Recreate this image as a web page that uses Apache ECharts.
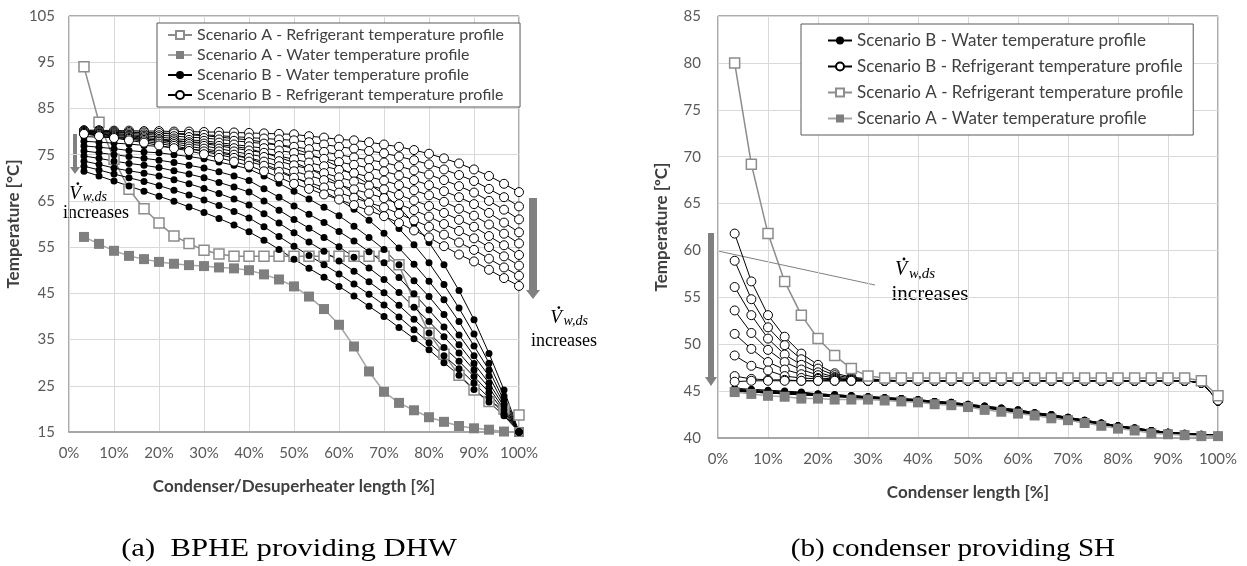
<!doctype html>
<html>
<head>
<meta charset="utf-8">
<title>Temperature profiles - DHW / SH</title>
<style>
  html, body { margin: 0; padding: 0; background: #fff; }
  #main { width: 1247px; height: 566px; }
</style>
</head>
<body>
<div id="main"></div>
<script src="https://cdn.jsdelivr.net/npm/echarts@6/dist/echarts.min.js"></script>
<script>
// position along the exchanger [%], 30 nodes
var lengthPct = [3.33, 6.67, 10, 13.33, 16.67, 20, 23.33, 26.67, 30, 33.33, 36.67, 40, 43.33, 46.67, 50,
                 53.33, 56.67, 60, 63.33, 66.67, 70, 73.33, 76.67, 80, 83.33, 86.67, 90, 93.33, 96.67, 100];

var NAME_A_REF = 'Scenario A - Refrigerant temperature profile';
var NAME_A_WAT = 'Scenario A - Water temperature profile';
var NAME_B_WAT = 'Scenario B - Water temperature profile';
var NAME_B_REF = 'Scenario B - Refrigerant temperature profile';

// (a) BPHE providing DHW
var dhwRefA = [94.0, 82.0, 74.0, 67.5, 63.3, 60.2, 57.4, 55.8, 54.3, 53.5, 53.0, 53.0, 53.0, 53.0, 53.0,
               53.0, 53.0, 53.0, 53.0, 53.0, 53.0, 51.2, 43.2, 36.4, 31.8, 27.3, 24.1, 21.6, 20.0, 18.7];
var dhwWaterA = [57.2, 55.7, 54.2, 53.1, 52.4, 51.8, 51.4, 51.1, 50.9, 50.6, 50.4, 50.0, 49.1, 48.0, 46.5,
                 44.3, 41.6, 38.2, 33.5, 28.1, 23.7, 21.3, 19.7, 18.2, 17.2, 16.3, 15.8, 15.5, 15.1, 15.0];
var dhwWaterB = [
  [80.0, 80.0, 79.9, 79.8, 79.7, 79.6, 79.5, 79.3, 79.1, 78.8, 78.5, 78.2, 77.7, 77.1, 76.3, 75.2, 73.9, 72.3, 70.5, 68.6, 66.5, 63.6, 60.1, 56.0, 51.2, 45.6, 39.3, 32.0, 24.1, 15.0],
  [78.9, 78.8, 78.7, 78.5, 78.4, 78.2, 78.0, 77.8, 77.6, 77.2, 76.8, 76.3, 75.4, 74.4, 73.3, 72.0, 70.4, 68.7, 66.7, 64.5, 62.0, 59.0, 55.5, 51.6, 46.9, 41.8, 36.2, 29.9, 22.8, 15.0],
  [77.9, 77.7, 77.5, 77.3, 77.0, 76.8, 76.5, 76.2, 75.9, 75.4, 74.8, 74.2, 73.0, 71.6, 70.2, 68.6, 67.0, 65.3, 63.2, 60.8, 58.0, 54.8, 51.3, 47.6, 43.6, 38.9, 33.6, 28.4, 21.8, 15.0],
  [76.9, 76.6, 76.3, 75.9, 75.6, 75.4, 75.0, 74.6, 74.1, 73.4, 72.7, 71.9, 70.4, 68.8, 67.1, 65.4, 63.6, 61.8, 59.5, 57.1, 54.5, 51.2, 47.7, 44.3, 40.4, 36.0, 31.5, 27.1, 21.0, 15.0],
  [75.8, 75.4, 75.0, 74.6, 74.2, 73.8, 73.3, 72.7, 72.1, 71.3, 70.4, 69.4, 67.6, 65.8, 63.9, 62.1, 60.3, 58.4, 56.3, 54.0, 51.6, 48.4, 44.9, 41.4, 37.7, 33.9, 29.8, 25.6, 20.5, 15.0],
  [74.7, 74.2, 73.6, 73.1, 72.7, 72.2, 71.5, 70.8, 70.0, 69.0, 68.0, 66.9, 65.0, 63.0, 61.0, 59.1, 57.1, 55.1, 52.8, 50.5, 48.0, 45.2, 42.0, 38.9, 35.6, 32.1, 28.4, 24.6, 19.9, 15.0],
  [73.6, 72.9, 72.1, 71.5, 71.0, 70.4, 69.6, 68.7, 67.7, 66.6, 65.4, 64.1, 62.2, 60.2, 58.1, 56.1, 54.1, 52.0, 49.8, 47.5, 45.1, 42.4, 39.4, 36.4, 33.3, 30.3, 27.0, 23.6, 19.4, 15.0],
  [72.5, 71.7, 70.8, 70.0, 69.2, 68.3, 67.3, 66.3, 65.2, 64.0, 62.7, 61.3, 59.4, 57.3, 55.2, 53.2, 51.2, 49.2, 47.0, 44.8, 42.5, 39.9, 37.1, 34.3, 31.5, 28.7, 25.6, 22.4, 18.9, 15.0],
  [71.4, 70.4, 69.3, 68.2, 67.1, 66.0, 64.9, 63.7, 62.5, 61.2, 59.8, 58.3, 56.5, 54.5, 52.4, 50.4, 48.5, 46.5, 44.4, 42.2, 40.0, 37.6, 35.2, 32.8, 30.0, 27.3, 24.2, 21.5, 18.5, 15.0]
];
var dhwRefB = [
  [80.3, 80.3, 80.2, 80.2, 80.1, 80.1, 80.0, 80.0, 79.9, 79.9, 79.8, 79.7, 79.6, 79.5, 79.4, 79.0, 78.7, 78.3, 78.1, 77.7, 77.2, 76.7, 76.0, 75.2, 74.2, 73.1, 71.8, 70.4, 68.7, 66.9],
  [80.2, 80.1, 80.0, 79.9, 79.8, 79.7, 79.6, 79.5, 79.3, 79.1, 78.9, 78.7, 78.5, 78.3, 78.1, 77.7, 77.2, 76.7, 76.3, 75.8, 75.3, 74.6, 73.8, 72.9, 71.8, 70.6, 69.3, 67.6, 65.8, 63.8],
  [80.1, 80.0, 79.8, 79.6, 79.4, 79.2, 79.0, 78.8, 78.6, 78.3, 78.0, 77.7, 77.4, 77.1, 76.7, 76.2, 75.6, 75.0, 74.4, 73.9, 73.3, 72.5, 71.6, 70.7, 69.5, 68.2, 66.8, 65.0, 63.1, 61.0],
  [80.0, 79.8, 79.6, 79.3, 79.1, 78.8, 78.5, 78.2, 78.0, 77.6, 77.2, 76.8, 76.4, 75.9, 75.4, 74.8, 74.1, 73.4, 72.8, 72.1, 71.4, 70.5, 69.5, 68.4, 67.1, 65.8, 64.3, 62.4, 60.3, 58.2],
  [79.9, 79.6, 79.4, 79.1, 78.8, 78.4, 78.1, 77.7, 77.4, 76.9, 76.4, 75.9, 75.4, 74.7, 74.0, 73.3, 72.5, 71.7, 71.0, 70.2, 69.4, 68.4, 67.3, 66.2, 64.8, 63.3, 61.8, 59.9, 57.9, 55.8],
  [79.8, 79.5, 79.2, 78.9, 78.5, 78.1, 77.7, 77.3, 76.9, 76.3, 75.7, 75.1, 74.5, 73.6, 72.7, 71.9, 71.0, 70.1, 69.2, 68.3, 67.5, 66.3, 65.1, 63.9, 62.4, 60.9, 59.4, 57.4, 55.4, 53.3],
  [79.7, 79.4, 79.0, 78.6, 78.2, 77.8, 77.3, 76.8, 76.3, 75.7, 75.0, 74.3, 73.5, 72.5, 71.4, 70.5, 69.5, 68.5, 67.5, 66.6, 65.6, 64.3, 63.0, 61.6, 60.0, 58.5, 56.9, 55.0, 53.0, 51.0],
  [79.6, 79.2, 78.8, 78.4, 77.9, 77.4, 76.9, 76.3, 75.7, 75.0, 74.3, 73.5, 72.6, 71.3, 70.0, 69.0, 67.9, 66.8, 65.7, 64.6, 63.6, 62.2, 60.8, 59.4, 57.7, 56.0, 54.4, 52.5, 50.6, 48.8],
  [79.5, 79.0, 78.6, 78.1, 77.6, 77.0, 76.4, 75.8, 75.1, 74.3, 73.5, 72.6, 71.4, 70.1, 68.7, 67.6, 66.4, 65.3, 64.1, 62.9, 61.7, 60.2, 58.6, 57.1, 55.2, 53.4, 51.9, 50.1, 48.3, 46.6]
];

// (b) condenser providing SH
var shRefA = [80.0, 69.2, 61.8, 56.7, 53.1, 50.6, 48.8, 47.4, 46.6, 46.4, 46.4, 46.4, 46.4, 46.4, 46.4,
              46.4, 46.4, 46.4, 46.4, 46.4, 46.4, 46.4, 46.4, 46.4, 46.4, 46.4, 46.4, 46.4, 46.1, 44.5];
var shWaterA = [44.9, 44.7, 44.5, 44.4, 44.2, 44.2, 44.1, 44.1, 44.1, 44.0, 43.9, 43.8, 43.6, 43.5, 43.3,
                43.0, 42.8, 42.6, 42.4, 42.1, 41.9, 41.6, 41.3, 41.0, 40.8, 40.5, 40.4, 40.3, 40.2, 40.2];
var shWaterB = [
  [45.3, 45.2, 45.1, 45.0, 44.9, 44.7, 44.6, 44.5, 44.4, 44.3, 44.2, 44.1, 43.9, 43.8, 43.6, 43.4, 43.2, 43.0, 42.7, 42.5, 42.2, 41.9, 41.6, 41.3, 41.1, 40.8, 40.6, 40.5, 40.4, 40.3],
  [45.2, 45.1, 45.0, 44.9, 44.8, 44.7, 44.6, 44.5, 44.4, 44.3, 44.2, 44.1, 43.9, 43.8, 43.6, 43.4, 43.2, 43.0, 42.7, 42.5, 42.2, 41.9, 41.6, 41.3, 41.1, 40.8, 40.6, 40.5, 40.4, 40.3],
  [45.2, 45.0, 44.9, 44.9, 44.8, 44.7, 44.6, 44.5, 44.4, 44.3, 44.2, 44.0, 43.9, 43.7, 43.5, 43.3, 43.1, 42.9, 42.7, 42.4, 42.2, 41.9, 41.6, 41.3, 41.0, 40.8, 40.6, 40.5, 40.4, 40.3],
  [45.1, 45.0, 44.9, 44.8, 44.7, 44.6, 44.5, 44.5, 44.4, 44.3, 44.1, 44.0, 43.9, 43.7, 43.5, 43.3, 43.1, 42.9, 42.6, 42.4, 42.1, 41.8, 41.5, 41.3, 41.0, 40.8, 40.6, 40.4, 40.3, 40.3],
  [45.1, 45.0, 44.9, 44.8, 44.7, 44.6, 44.5, 44.4, 44.3, 44.2, 44.1, 44.0, 43.8, 43.7, 43.5, 43.3, 43.1, 42.8, 42.6, 42.4, 42.1, 41.8, 41.5, 41.2, 41.0, 40.8, 40.6, 40.4, 40.3, 40.3],
  [45.0, 44.9, 44.8, 44.8, 44.7, 44.6, 44.5, 44.4, 44.3, 44.2, 44.1, 43.9, 43.8, 43.6, 43.4, 43.2, 43.0, 42.8, 42.6, 42.3, 42.1, 41.8, 41.5, 41.2, 41.0, 40.7, 40.5, 40.4, 40.3, 40.2],
  [45.0, 44.9, 44.8, 44.7, 44.6, 44.5, 44.4, 44.4, 44.3, 44.2, 44.0, 43.9, 43.8, 43.6, 43.4, 43.2, 43.0, 42.8, 42.5, 42.3, 42.0, 41.8, 41.5, 41.2, 40.9, 40.7, 40.5, 40.4, 40.3, 40.2],
  [45.0, 44.9, 44.8, 44.7, 44.6, 44.5, 44.4, 44.3, 44.2, 44.1, 44.0, 43.9, 43.7, 43.6, 43.4, 43.2, 43.0, 42.7, 42.5, 42.3, 42.0, 41.7, 41.4, 41.2, 40.9, 40.7, 40.5, 40.4, 40.3, 40.2]
];
var shRefB = [
  [61.8, 56.7, 53.1, 50.8, 49.0, 47.8, 46.9, 46.5, 46.3, 46.2, 46.1, 46.1, 46.1, 46.1, 46.1, 46.1, 46.1, 46.1, 46.1, 46.1, 46.1, 46.1, 46.1, 46.1, 46.1, 46.1, 46.1, 46.1, 45.9, 44.0],
  [58.9, 54.8, 51.8, 49.9, 48.4, 47.4, 46.7, 46.4, 46.2, 46.1, 46.1, 46.1, 46.1, 46.1, 46.1, 46.1, 46.1, 46.1, 46.1, 46.1, 46.1, 46.1, 46.1, 46.1, 46.1, 46.1, 46.1, 46.1, 45.9, 44.0],
  [56.1, 53.1, 50.6, 48.9, 47.8, 47.0, 46.5, 46.3, 46.2, 46.1, 46.1, 46.1, 46.1, 46.1, 46.1, 46.1, 46.1, 46.1, 46.1, 46.1, 46.1, 46.1, 46.1, 46.1, 46.1, 46.1, 46.1, 46.1, 45.9, 44.0],
  [53.6, 51.2, 49.4, 48.1, 47.3, 46.7, 46.4, 46.2, 46.1, 46.1, 46.1, 46.1, 46.1, 46.1, 46.1, 46.1, 46.1, 46.1, 46.1, 46.1, 46.1, 46.1, 46.1, 46.1, 46.1, 46.1, 46.1, 46.1, 45.9, 44.0],
  [51.1, 49.5, 48.1, 47.3, 46.8, 46.4, 46.3, 46.2, 46.1, 46.1, 46.1, 46.1, 46.1, 46.1, 46.1, 46.1, 46.1, 46.1, 46.1, 46.1, 46.1, 46.1, 46.1, 46.1, 46.1, 46.1, 46.1, 46.1, 45.9, 44.0],
  [48.8, 47.7, 47.2, 46.6, 46.4, 46.3, 46.2, 46.1, 46.1, 46.1, 46.1, 46.1, 46.1, 46.1, 46.1, 46.1, 46.1, 46.1, 46.1, 46.1, 46.1, 46.1, 46.1, 46.1, 46.1, 46.1, 46.1, 46.1, 45.9, 44.0],
  [46.6, 46.3, 46.2, 46.2, 46.1, 46.1, 46.1, 46.1, 46.1, 46.1, 46.1, 46.1, 46.1, 46.1, 46.1, 46.1, 46.1, 46.1, 46.1, 46.1, 46.1, 46.1, 46.1, 46.1, 46.1, 46.1, 46.1, 46.1, 45.9, 44.0],
  [46.0, 46.1, 46.1, 46.1, 46.1, 46.1, 46.1, 46.1, 46.1, 46.1, 46.1, 46.1, 46.1, 46.1, 46.1, 46.1, 46.1, 46.1, 46.1, 46.1, 46.1, 46.1, 46.1, 46.1, 46.1, 46.1, 46.1, 46.1, 45.9, 44.0]
];

var chart = echarts.init(document.getElementById('main'), null, { renderer: 'canvas' });

var GRAY = '#8c8c8c';
var styles = {
    refA:   { symbol: 'rect',   symbolSize: 10, itemStyle: { color: '#fff', borderColor: GRAY, borderWidth: 1.5 }, lineStyle: { color: GRAY, width: 1.5 } },
    waterA: { symbol: 'rect',   symbolSize: 10, itemStyle: { color: '#7f7f7f' }, lineStyle: { color: '#a6a6a6', width: 1.5 } },
    waterB: { symbol: 'circle', symbolSize: 7,  itemStyle: { color: '#000' }, lineStyle: { color: '#000', width: 1 } },
    refB:   { symbol: 'circle', symbolSize: 9,  itemStyle: { color: '#fff', borderColor: '#000', borderWidth: 1 }, lineStyle: { color: '#000', width: 1 } }
};

function makeSeries(name, values, axis, st) {
    return {
        type: 'line',
        name: name,
        xAxisIndex: axis,
        yAxisIndex: axis,
        data: lengthPct.map(function (x, i) { return [x, values[i]]; }),
        symbol: st.symbol,
        symbolSize: st.symbolSize,
        showAllSymbol: true,
        itemStyle: st.itemStyle,
        lineStyle: st.lineStyle,
        clip: false,
        silent: true,
        animation: false
    };
}

var series = [];
// left chart: same order as its legend
series.push(makeSeries(NAME_A_REF, dhwRefA, 0, styles.refA));
series.push(makeSeries(NAME_A_WAT, dhwWaterA, 0, styles.waterA));
dhwWaterB.forEach(function (v) { series.push(makeSeries(NAME_B_WAT, v, 0, styles.waterB)); });
dhwRefB.forEach(function (v) { series.push(makeSeries(NAME_B_REF, v, 0, styles.refB)); });
// right chart
shWaterB.forEach(function (v) { series.push(makeSeries(NAME_B_WAT, v, 1, styles.waterB)); });
shRefB.forEach(function (v) { series.push(makeSeries(NAME_B_REF, v, 1, styles.refB)); });
series.push(makeSeries(NAME_A_REF, shRefA, 1, styles.refA));
series.push(makeSeries(NAME_A_WAT, shWaterA, 1, styles.waterA));

var tickFont = { fontFamily: 'Lato', fontSize: 15, color: '#595959' };
var nameFont = { fontFamily: 'Lato', fontSize: 17, fontWeight: 'bold', color: '#404040' };

function xAxisFor(idx, name, gap) {
    return {
        type: 'value', gridIndex: idx, min: 0, max: 100, interval: 10,
        name: name, nameLocation: 'middle', nameGap: gap, nameTextStyle: nameFont,
        axisLabel: Object.assign({ formatter: '{value}%', margin: 14 }, tickFont),
        axisTick: { show: false },
        axisLine: { show: true, lineStyle: { color: '#a6a6a6', width: 2 } },
        splitLine: { show: true, lineStyle: { color: '#d9d9d9', width: 1 } }
    };
}
function yAxisFor(idx, min, max, step, name, gap, margin) {
    return {
        type: 'value', gridIndex: idx, min: min, max: max, interval: step,
        name: name, nameLocation: 'middle', nameGap: gap, nameRotate: 90, nameTextStyle: nameFont,
        axisLabel: Object.assign({ margin: margin }, tickFont),
        axisTick: { show: false },
        axisLine: { show: false },
        splitLine: { show: true, lineStyle: { color: '#d9d9d9', width: 1 } }
    };
}

var legendText = { fontFamily: 'Lato', color: '#404040' };

// annotation helpers
function arrow(x, y1, y2, w, head) {
    return [
        { type: 'rect', shape: { x: x - w / 2, y: y1, width: w, height: y2 - y1 - head }, style: { fill: '#808080' }, silent: true },
        { type: 'polygon', shape: { points: [[x - w / 2 - 3, y2 - head], [x + w / 2 + 3, y2 - head], [x, y2]] }, style: { fill: '#808080' }, silent: true }
    ];
}
function txt(x, y, s, font, align, extra) {
    var el = {
        type: 'text', x: x, y: y, silent: true,
        style: { text: s, font: font, fill: '#000', textAlign: align || 'center', textVerticalAlign: 'middle', align: align || 'center', verticalAlign: 'middle' }
    };
    return Object.assign(el, extra || {});
}
function vdot(x, y, size, sub) {
    // V with an overdot and "w,ds" subscript
    return [
        txt(x, y, 'V', 'italic ' + size + 'px "Liberation Serif"', 'center'),
        { type: 'circle', shape: { cx: x + size * 0.15, cy: y - size * 0.55, r: size * 0.07 }, style: { fill: '#000' }, silent: true },
        txt(x + size * 0.4, y + size * 0.18, sub, 'italic ' + Math.round(size * 0.75) + 'px "Liberation Serif"', 'left')
    ];
}

var graphics = [];
graphics = graphics.concat(arrow(75, 134, 174, 4, 7));
graphics = graphics.concat(vdot(75, 194, 19, 'w,ds'));
graphics.push(txt(96, 213, 'increases', '18px "Liberation Serif"'));
graphics = graphics.concat(arrow(533, 198, 299, 8, 9));
graphics = graphics.concat(vdot(556, 318, 19, 'w,ds'));
graphics.push(txt(564, 341, 'increases', '18px "Liberation Serif"'));
graphics = graphics.concat(arrow(711, 233, 386, 6, 9));
graphics.push({ type: 'line', shape: { x1: 718, y1: 251, x2: 875, y2: 285 }, style: { stroke: '#808080', lineWidth: 1 }, silent: true });
graphics = graphics.concat(vdot(901, 270, 20, 'w,ds'));
graphics.push(txt(930, 294, 'increases', '21px "Liberation Serif"'));
graphics.push(txt(289, 549, '(a)  BPHE providing DHW', '26px "Liberation Serif"', 'center', { scaleX: 1.18 }));
graphics.push(txt(953, 549, '(b) condenser providing SH', '26px "Liberation Serif"', 'center', { scaleX: 1.12 }));

chart.setOption({
    animation: false,
    backgroundColor: '#fff',
    grid: [
        { left: 69, top: 16, width: 450, height: 416, show: true, borderColor: '#595959', borderWidth: 1, backgroundColor: 'transparent' },
        { left: 718, top: 16, width: 500, height: 422, show: true, borderColor: '#595959', borderWidth: 1, backgroundColor: 'transparent' }
    ],
    xAxis: [
        xAxisFor(0, 'Condenser/Desuperheater length [%]', 46),
        xAxisFor(1, 'Condenser length [%]', 46)
    ],
    yAxis: [
        yAxisFor(0, 15, 105, 10, 'Temperature [°C]', 47, 14),
        yAxisFor(1, 40, 85, 5, 'Temperature [ºC]', 48, 17)
    ],
    legend: [
        {
            data: [NAME_A_REF, NAME_A_WAT, NAME_B_WAT, NAME_B_REF],
            orient: 'vertical', left: 157, top: 23,
            padding: [4, 16, 4, 10], itemGap: 4, itemWidth: 24, itemHeight: 10,
            borderColor: '#595959', borderWidth: 1, backgroundColor: '#fff',
            textStyle: Object.assign({ fontSize: 16 }, legendText),
            selectedMode: false
        },
        {
            data: [NAME_B_WAT, NAME_B_REF, NAME_A_REF, NAME_A_WAT],
            orient: 'vertical', left: 801, top: 24,
            padding: [8, 10, 8, 26], itemGap: 9, itemWidth: 24, itemHeight: 10,
            borderColor: '#595959', borderWidth: 1, backgroundColor: '#fff',
            textStyle: Object.assign({ fontSize: 17 }, legendText),
            selectedMode: false
        }
    ],
    series: series,
    graphic: graphics
});

window.onresize = chart.resize;
</script>
</body>
</html>
